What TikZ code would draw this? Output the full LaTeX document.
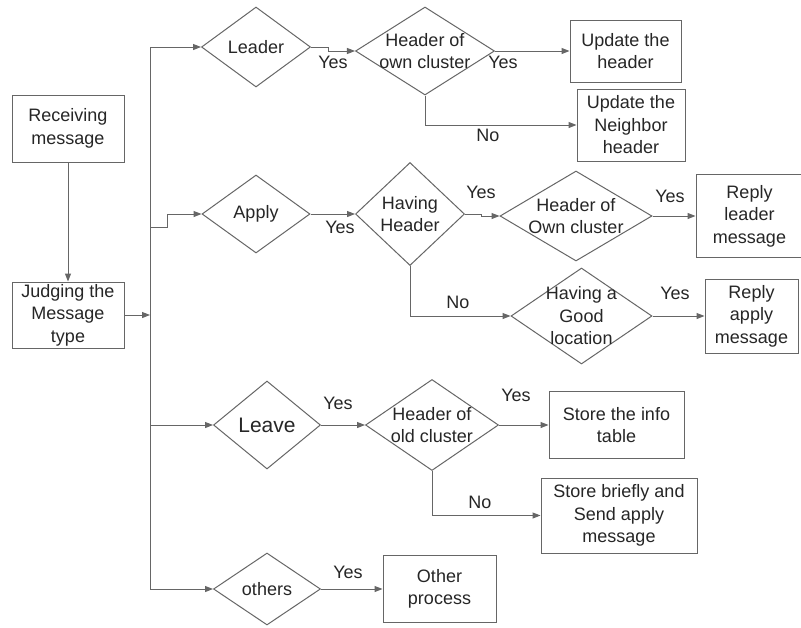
\documentclass[tikz,border=0pt]{standalone}
\usepackage{fontspec}
\setmainfont{Liberation Sans}
\usetikzlibrary{shapes.geometric,arrows.meta}

\begin{document}
\begin{tikzpicture}[x=1pt, y=-1pt, line width=1pt, color=black!60, >={Triangle[length=8pt,width=6pt]},
  every node/.style={font=\fontsize{18}{22.5}\selectfont, text=black!85, align=center},
  box/.style={rectangle, draw, inner sep=0pt},
  dia/.style={diamond, draw, inner sep=0pt},
  lbl/.style={inner sep=0pt}]
  \useasboundingbox (0,0) rectangle (801,627);
  \fill[white] (0,0) rectangle (801,627);

  \node[box, minimum width=112pt, minimum height=67pt] (recv) at (68,128.5) {Receiving\\message};
  \node[box, minimum width=112pt, minimum height=66pt] (judge) at (68,315) {Judging the\\Message\\type};

  \node[dia, minimum width=109pt, minimum height=80pt] (leader) at (256,47) {};
  \node (leader-t) at (leader) {Leader};
  \node[dia, minimum width=139pt, minimum height=88pt] (hoc) at (425,51) {};
  \node (hoc-t) at (hoc) {Header of\\own cluster};
  \node[box, minimum width=111pt, minimum height=62pt] (upd) at (625.5,51) {Update the\\header};
  \node[box, minimum width=108pt, minimum height=72pt] (nbr) at (631,125) {Update the\\Neighbor\\header};

  \node[dia, minimum width=108pt, minimum height=78pt] (apply) at (256,214) {};
  \node (apply-t) at (apply) {Apply};
  \node[dia, minimum width=109pt, minimum height=103pt] (hh) at (410,214) {};
  \node (hh-t) at (hh) {Having\\Header};
  \node[dia, minimum width=152pt, minimum height=90pt] (hoc2) at (576,216) {};
  \node (hoc2-t) at (hoc2) {Header of\\Own cluster};
  \node[box, minimum width=107pt, minimum height=83pt] (rlm) at (749.5,216) {Reply\\leader\\message};
  \node[dia, minimum width=141pt, minimum height=96pt] (good) at (581.5,316) {};
  \node (good-t) at (good) {Having a\\Good\\location};
  \node[box, minimum width=93pt, minimum height=74pt] (ram) at (751.5,316) {Reply\\apply\\message};

  \node[dia, minimum width=107pt, minimum height=88pt] (leave) at (267,425) {};
  \node[font=\fontsize{21}{25}\selectfont] (leave-t) at (leave) {Leave};
  \node[dia, minimum width=133pt, minimum height=91pt] (hold) at (432,425) {};
  \node (hold-t) at (hold) {Header of\\old cluster};
  \node[box, minimum width=135pt, minimum height=67pt] (info) at (616.5,425) {Store the info\\table};
  \node[box, minimum width=156pt, minimum height=75pt] (brief) at (619,515.5) {Store briefly and\\Send apply\\message};

  \node[dia, minimum width=107pt, minimum height=72pt] (others) at (267,589) {};
  \node (others-t) at (others) {others};
  \node[box, minimum width=113pt, minimum height=67pt] (other) at (439.5,589) {Other\\process};

  \node[lbl] (y1) at (333,62) {Yes};
  \node[lbl] (y2) at (503,62) {Yes};
  \node[lbl] (n1) at (488,135) {No};
  \node[lbl] (y3) at (340,227) {Yes};
  \node[lbl] (y4) at (481,192) {Yes};
  \node[lbl] (y5) at (670,196) {Yes};
  \node[lbl] (n2) at (458,302) {No};
  \node[lbl] (y6) at (675,293) {Yes};
  \node[lbl] (y7) at (338,403) {Yes};
  \node[lbl] (y8) at (516,395) {Yes};
  \node[lbl] (n3) at (480,502) {No};
  \node[lbl] (y9) at (348,572) {Yes};

  \coordinate (ttop) at (150,47);
  \coordinate (tbot) at (150,589);
  \coordinate (tj) at (150,315);
  \coordinate (tapp) at (150,227);

  \draw[->] (recv) -- (judge);
  \draw[->] (judge) -- (tj);
  \draw (ttop) -- (tbot);
  \draw[->] (ttop) -- (leader);
  \draw[->] (tapp) -- ++(17,0) |- (apply);
  \draw[->] (leave -| ttop) -- (leave);
  \draw[->] (tbot) -- (others);

  \draw[->] (leader.east) -- ++(17,0) |- (hoc);
  \draw[->] (hoc) -- (upd);
  \draw[->] (hoc.south) |- (nbr);
  \draw[->] (apply) -- (hh);
  \draw[->] (hh.east) -- ++(16,0) |- (hoc2);
  \draw[->] (hoc2) -- (rlm);
  \draw[->] (hh.south) |- (good);
  \draw[->] (good) -- (ram);
  \draw[->] (leave) -- (hold);
  \draw[->] (hold) -- (info);
  \draw[->] (hold.south) |- (brief);
  \draw[->] (others) -- (other);
\end{tikzpicture}
\end{document}
